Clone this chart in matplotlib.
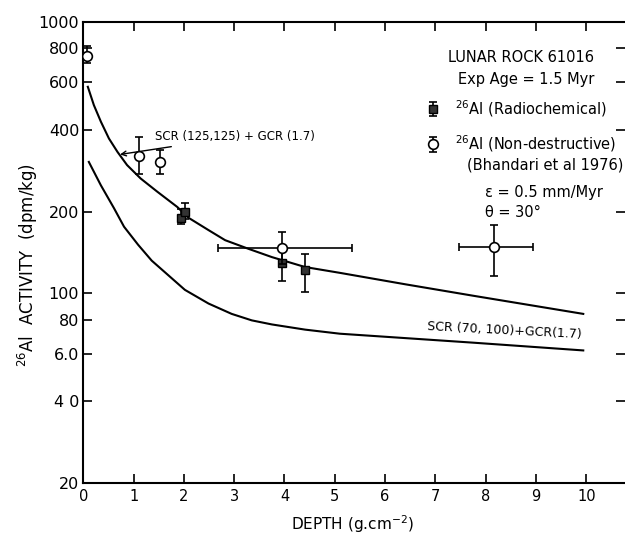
import matplotlib
matplotlib.use("Agg")
from matplotlib import pyplot as plt
from matplotlib.ticker import NullLocator

# curves
upper_x = [0.09, 0.21, 0.35, 0.51, 0.68, 0.87, 1.14, 1.47, 1.87, 2.09, 2.49, 2.82, 3.28,
           3.75, 4.41, 5.1, 6.4, 7.75, 9.94]
upper_y = [577, 494, 429, 372, 332, 297, 265, 237, 208, 190, 171, 157, 146,
           136, 125, 119, 108, 98, 84]
lower_x = [0.11, 0.35, 0.61, 0.81, 1.09, 1.36, 2.02, 2.49, 2.95, 3.35, 3.75, 4.41, 5.1,
           6.4, 7.75, 9.94]
lower_y = [305, 250, 206, 176, 151, 132, 103, 91.7, 84, 79.5, 76.8, 73.5, 71,
           68.4, 65.8, 61.6]

# 26Al radiochemical (filled squares)
sq_x = [1.95, 2.03, 3.96, 4.41]
sq_y = [190, 199, 129, 122]
sq_lo = [10, 11, 18, 21]
sq_hi = [15, 16, 18, 18]

# 26Al non-destructive (open circles), no depth error
ci_x = [0.07, 1.11, 1.53]
ci_y = [750, 320, 306]
ci_lo = [44, 45, 31]
ci_hi = [65, 57, 31]

# open circles with depth error
cx_x = [3.96, 8.17]
cx_y = [147, 148]
cx_lo = [19, 32]
cx_hi = [21, 30]
cx_xlo = [1.28, 0.71]
cx_xhi = [1.38, 0.78]

y_ticks = [20, 40, 60, 80, 100, 200, 400, 600, 800, 1000]
y_labels = ["20", "4 0", "6.0", "80", "100", "200", "400", "600", "800", "1000"]
x_ticks = list(range(0, 11))

fig = plt.figure(figsize=(6.25, 5.35), dpi=100)
ax = fig.add_axes([83.3 / 625, 52 / 535, 541.7 / 625, 461 / 535])

ax.plot(upper_x, upper_y, color='k', lw=1.5)
ax.plot(lower_x, lower_y, color='k', lw=1.5)

eb = dict(ecolor='k', elinewidth=1.2, capsize=3, capthick=1.2)
h_sq = ax.errorbar(sq_x, sq_y, yerr=[sq_lo, sq_hi], fmt='s', ms=6,
                   mfc='#333333', mec='k', zorder=3, **eb)
h_ci = ax.errorbar(ci_x, ci_y, yerr=[ci_lo, ci_hi], fmt='o', ms=7,
                   mfc='white', mec='k', mew=1.2, zorder=4, **eb)
ax.errorbar(cx_x, cx_y, yerr=[cx_lo, cx_hi], xerr=[cx_xlo, cx_xhi], fmt='o',
            ms=7, mfc='white', mec='k', mew=1.2, zorder=4, **eb)

ax.set_yscale('log')
ax.set_xlim(0, 10.77)
ax.set_ylim(20, 1000)
ax.yaxis.set_minor_locator(NullLocator())
ax.set_yticks(y_ticks)
ax.set_yticklabels(y_labels)
ax.set_xticks(x_ticks)
ax.set_xticklabels([str(i) for i in x_ticks])

ax.tick_params(direction='in', length=6.5, width=1.2, top=True, right=True)
ax.tick_params(axis='y', labelsize=11.5, pad=3)
ax.tick_params(axis='x', labelsize=10.5, pad=4)
for s in ax.spines.values():
    s.set_linewidth(1.5)
ax.spines['right'].set_visible(False)

ax.set_xlabel(r"DEPTH (g.cm$^{-2}$)", fontsize=11)
ax.xaxis.set_label_coords(0.497, -0.065)
ax.set_ylabel(r"$^{26}$Al  ACTIVITY  (dpm/kg)", fontsize=12)
ax.yaxis.set_label_coords(-0.08, 0.473)

# curve labels
ax.annotate("SCR (125,125) + GCR (1.7)", xy=(0.73, 325), xytext=(1.43, 377),
            va='center', fontsize=8.5,
            arrowprops=dict(arrowstyle='->', lw=1, color='k', shrinkA=2, shrinkB=0))
ax.text(8.38, 73, "SCR (70, 100)+GCR(1.7)", rotation=-3, ha='center', va='center',
        fontsize=9)

# key
ax.text(0.673, 0.924, "LUNAR ROCK 61016", transform=ax.transAxes, fontsize=10.5, va='center')
ax.text(0.692, 0.876, "Exp Age = 1.5 Myr", transform=ax.transAxes, fontsize=10.5, va='center')
ax.legend([h_sq, h_ci], [r"$^{26}$Al (Radiochemical)", r"$^{26}$Al (Non-destructive)"],
          loc='upper left', bbox_to_anchor=(0.633, 0.835), frameon=False,
          fontsize=10.5, borderpad=0, handlelength=1.0, handletextpad=1.0,
          labelspacing=1.0, borderaxespad=0)
ax.text(0.708, 0.690, "(Bhandari et al 1976)", transform=ax.transAxes, fontsize=10.5, va='center')
ax.text(0.741, 0.631, "ε = 0.5 mm/Myr", transform=ax.transAxes, fontsize=10.5, va='center')
ax.text(0.741, 0.586, "θ = 30°", transform=ax.transAxes, fontsize=10.5, va='center')

plt.savefig("out.png", dpi=100)
